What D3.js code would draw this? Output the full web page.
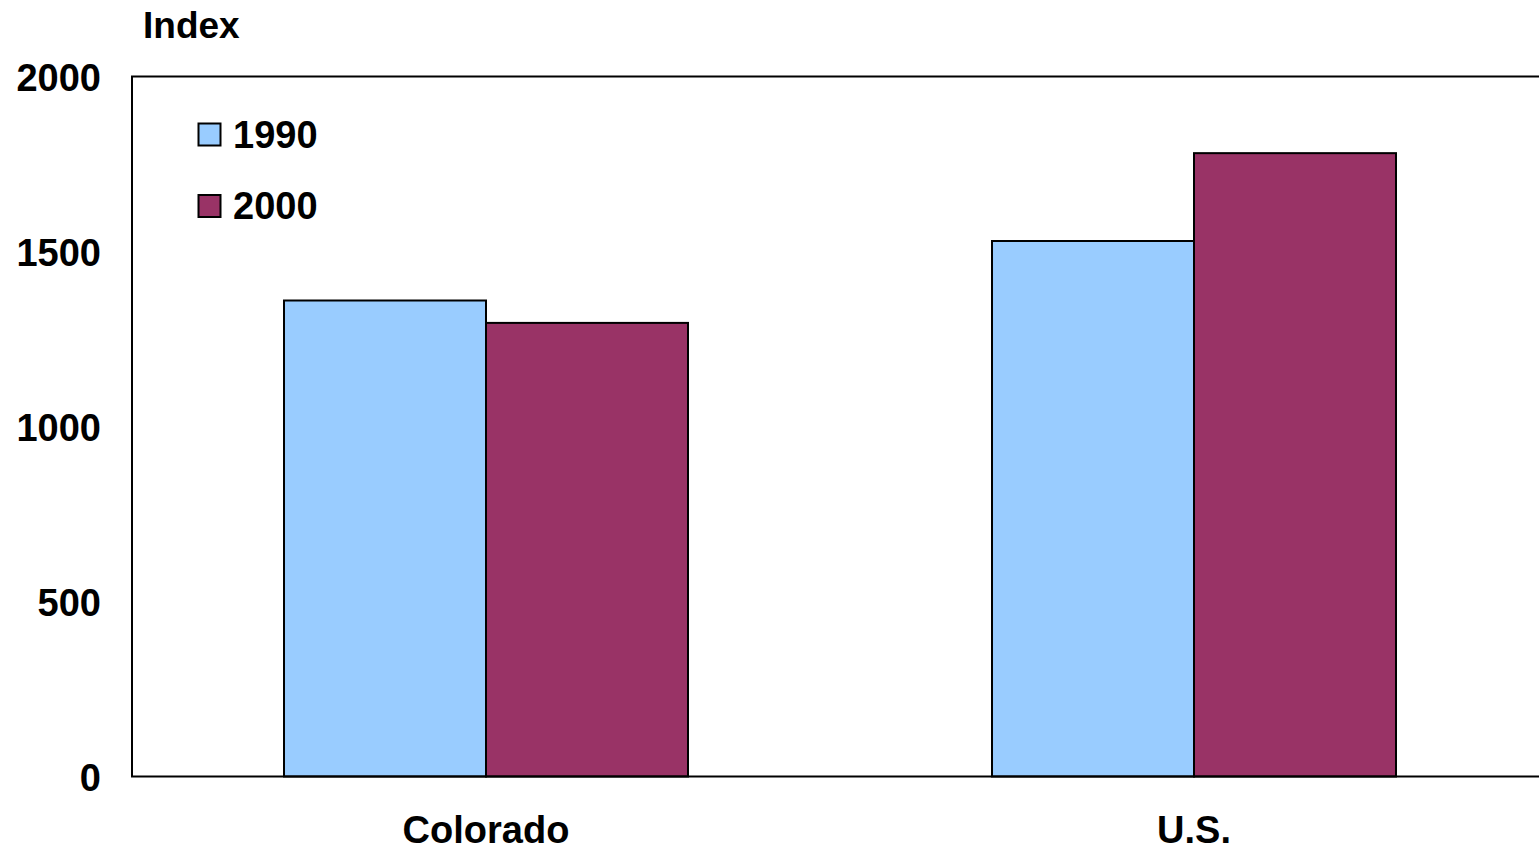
<!DOCTYPE html>
<html>
<head>
<meta charset="utf-8">
<script src="https://cdn.jsdelivr.net/npm/d3@7"></script>
<style>
html,body{margin:0;padding:0;background:#fff;overflow:hidden;}
text{font-family:"Liberation Sans",Arial,sans-serif;font-weight:bold;fill:#000;}
</style>
</head>
<body>
<svg id="chart" width="1539" height="852"></svg>
<script>
const categories = ["Colorado", "U.S."];
const seriesNames = ["1990", "2000"];
const values1990 = [1360, 1530];
const values2000 = [1296, 1781];
const yTicks = [0, 500, 1000, 1500, 2000];
const colors = ["#99CCFF", "#993366"];

(function () {
const svg = d3.select("#chart");
const pLeft = 132, pRight = 1548, pTop = 76.5, pBottom = 776.5;

const x = d3.scaleBand().domain(categories).range([pLeft, pRight])
  .paddingInner(0.4294).paddingOuter(0.2147);
const xs = d3.scaleBand().domain(seriesNames).range([0, x.bandwidth()]);
const y = d3.scaleLinear().domain([0, 2000]).range([pBottom, pTop]);

const data = categories.map((c, i) => ({cat: c, vals: [values1990[i], values2000[i]]}));

const g = svg.append("g");
data.forEach(d => {
  d.vals.forEach((v, j) => {
    g.append("rect")
      .attr("x", x(d.cat) + xs(seriesNames[j]))
      .attr("y", y(v))
      .attr("width", xs.bandwidth())
      .attr("height", y(0) - y(v))
      .attr("fill", colors[j])
      .attr("stroke", "#000")
      .attr("stroke-width", 2);
  });
});

// plot frame (top, left, bottom)
svg.append("path")
  .attr("d", `M${pRight},${pTop}H${pLeft}V${pBottom}H${pRight}`)
  .attr("fill", "none").attr("stroke", "#000").attr("stroke-width", 2);

// y axis labels
const yAxis = d3.axisLeft(y).tickValues(yTicks).tickFormat(d3.format("d")).tickSize(0).tickPadding(31);
const ya = svg.append("g").attr("transform", `translate(${pLeft},0)`).call(yAxis);
ya.select(".domain").remove();
ya.selectAll("text").attr("font-size", 38).attr("font-family", null)
  .attr("dy", "0.38em");

// x axis labels
const xAxis = d3.axisBottom(x).tickSize(0).tickPadding(0);
const xa = svg.append("g").attr("transform", `translate(0,${pBottom})`).call(xAxis);
xa.select(".domain").remove();
xa.selectAll("text").attr("font-size", 38).attr("font-family", null)
  .attr("y", 66.5).attr("dy", 0);

// y title
svg.append("text").attr("x", 143).attr("y", 38).attr("font-size", 37).text("Index");

// legend
const legY = [134.5, 206];
seriesNames.forEach((s, j) => {
  svg.append("rect").attr("x", 198.5).attr("y", legY[j] - 11).attr("width", 22).attr("height", 22)
    .attr("fill", colors[j]).attr("stroke", "#000").attr("stroke-width", 2);
  svg.append("text").attr("x", 233).attr("y", legY[j] + 13).attr("font-size", 38).text(s);
});
})();
</script>
</body>
</html>
